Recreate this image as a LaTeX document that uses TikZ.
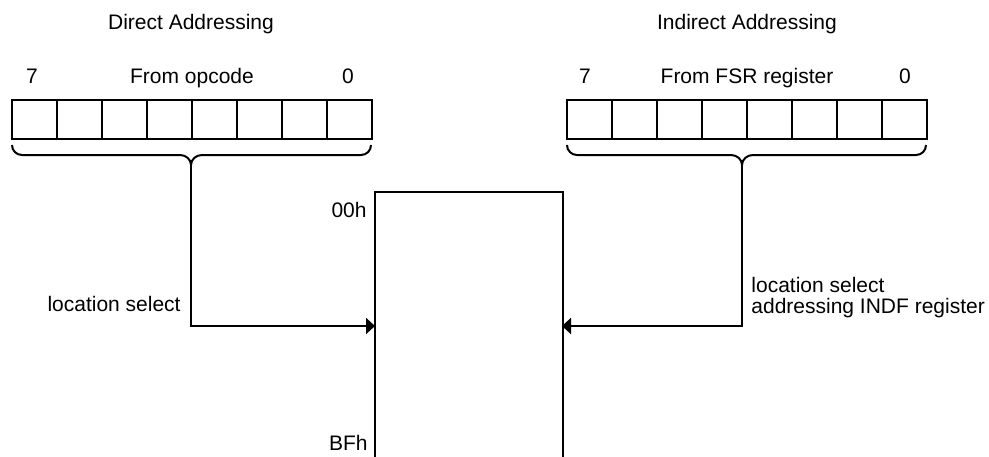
\documentclass[tikz,border=0pt]{standalone}
\usepackage{fontspec}
\setmainfont{Liberation Sans}
\usetikzlibrary{arrows.meta}
\begin{document}
\begin{tikzpicture}[x=0.5pt,y=-0.5pt,
  lbl/.style={font=\fontsize{10.5pt}{12.5pt}\selectfont, inner sep=0pt, anchor=base},
  cell/.style={draw, line width=1pt, minimum width=22.5pt, minimum height=19.5pt, inner sep=0pt, anchor=north west},
  wire/.style={line width=1pt},
  arr/.style={wire, -{Triangle[length=4.5pt,width=8pt]}},
  brace/.style={line width=1pt}]
\useasboundingbox (0,0) rectangle (989,456);
% titles
\node[lbl] (tdir) at (191,29) {Direct Addressing};
\node[lbl] (tind) at (747,29) {Indirect Addressing};
% bit labels
\node[lbl] (l7) at (32,83) {7};
\node[lbl] (lfrom) at (192,83) {From opcode};
\node[lbl] (l0) at (348,83) {0};
\node[lbl] (r7) at (585,83) {7};
\node[lbl] (rfrom) at (747,83) {From FSR register};
\node[lbl] (r0) at (905,83) {0};
% registers
\foreach \i in {0,...,7} {
  \node[cell] (lc\i) at ({11+45*\i},99) {};
  \node[cell] (rc\i) at ({566+45*\i},99) {};
}
% braces
\draw[brace] (12,145) to[out=-90,in=180] (22,155) -- (180,155) to[out=0,in=90] (191,165)
  to[out=90,in=180] (202,155) -- (361,155) to[out=0,in=-90] (371,145);
\coordinate (lbr) at (191,165);
\draw[brace] (567,145) to[out=-90,in=180] (577,155) -- (731,155) to[out=0,in=90] (742,165)
  to[out=90,in=180] (753,155) -- (916,155) to[out=0,in=-90] (926,145);
\coordinate (rbr) at (742,165);
% memory block
\node[inner sep=0pt, minimum width=93.5pt, minimum height=140pt, anchor=north west] (mem) at (375,192) {};
\draw[wire] (mem.south west) -- (mem.north west) -- (mem.north east) -- (mem.south east);
\node[lbl, anchor=base east] (a00) at (367,217) {00h};
\node[lbl, anchor=base east] (abf) at (368,450) {BFh};
% connectors
\coordinate (memL) at (375,326);
\coordinate (memR) at (562,326);
\draw[arr] (lbr) |- (memL);
\draw[arr] (rbr) |- (memR);
\node[lbl, anchor=base east] (lsel) at (181,311) {location select};
\node[lbl, anchor=base west] (rsel1) at (751,292) {location select};
\node[lbl, anchor=base west] (rsel2) at (751,313) {addressing INDF register};
\end{tikzpicture}
\end{document}
